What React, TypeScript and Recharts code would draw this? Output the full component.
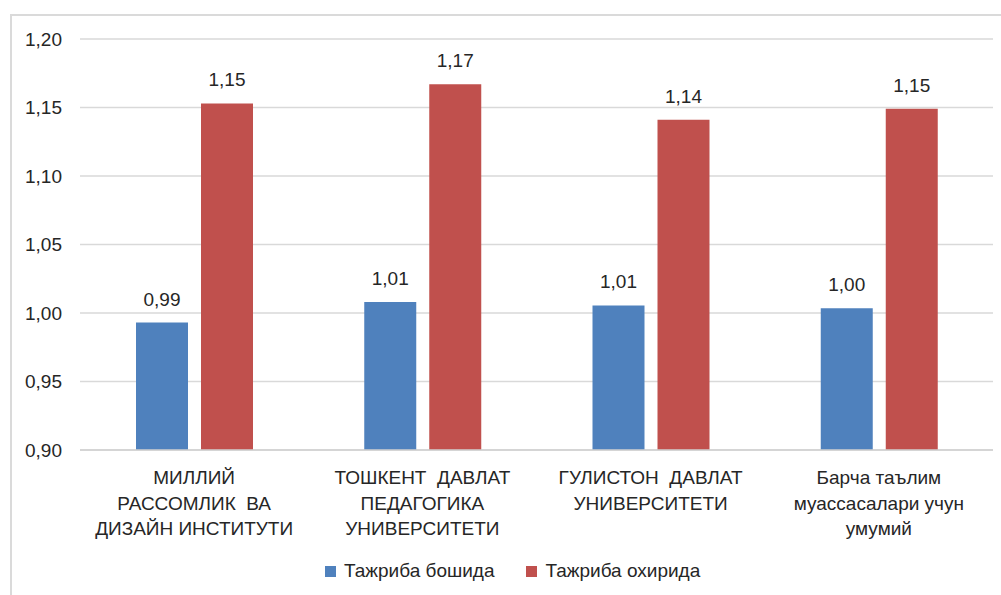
import React from "react";
import { BarChart, Bar, XAxis, YAxis, CartesianGrid, LabelList } from "recharts";

const categories = [
  "МИЛЛИЙ\nРАССОМЛИК  ВА\nДИЗАЙН ИНСТИТУТИ",
  "ТОШКЕНТ  ДАВЛАТ\nПЕДАГОГИКА\nУНИВЕРСИТЕТИ",
  "ГУЛИСТОН  ДАВЛАТ\nУНИВЕРСИТЕТИ",
  "Барча таълим\nмуассасалари учун\nумумий",
];
const startValues = [0.993, 1.008, 1.0055, 1.0035];
const endValues = [1.153, 1.167, 1.141, 1.149];
const seriesNames = ["Тажриба бошида", "Тажриба охирида"];
const seriesColors = ["#4F81BD", "#C0504D"];
const yTicks = [0.9, 0.95, 1.0, 1.05, 1.1, 1.15, 1.2];

const data = categories.map((c, i) => ({ name: c, start: startValues[i], end: endValues[i] }));

const FONT = "Liberation Sans";
const TEXT = "#262626";
const fmt = (v: number) => v.toFixed(2).replace(".", ",");

const CatTick = (props: any) => {
  const { x, y, payload } = props;
  const lines = String(payload.value).split("\n");
  return (
    <text x={x} y={y} textAnchor="middle" style={{ fontFamily: FONT }} fontSize={19} fill={TEXT}>
      {lines.map((l, i) => (
        <tspan key={i} x={x} dy={i === 0 ? 26 : 25.5} style={{ whiteSpace: "pre" }}>
          {l}
        </tspan>
      ))}
    </text>
  );
};

export default function App() {
  return (
    <div style={{ position: "absolute", left: 0, top: 0, width: 1001, height: 595, overflow: "hidden", background: "#fff" }}>
      <div
        style={{
          position: "absolute",
          left: 10,
          top: 14,
          width: 1010,
          height: 600,
          border: "2px solid #dadada",
          boxSizing: "border-box",
        }}
      />
      <div style={{ position: "absolute", left: 0, top: 0 }}>
        <BarChart
          width={1001}
          height={595}
          data={data}
          margin={{ top: 39, right: 8, bottom: 0, left: 0 }}
          barSize={52}
          barGap={13}
        >
          <CartesianGrid vertical={false} stroke="#d9d9d9" strokeWidth={1.3} />
          <XAxis
            dataKey="name"
            height={145}
            tickLine={false}
            axisLine={{ stroke: "#d0d0d0", strokeWidth: 1.3 }}
            tick={<CatTick />}
            interval={0}
          />
          <YAxis
            width={80}
            domain={[0.9, 1.2]}
            ticks={yTicks}
            tickLine={false}
            axisLine={false}
            tickSize={0}
            tickMargin={18}
            tickFormatter={fmt}
            tick={{ fontSize: 19, fill: TEXT, style: { fontFamily: FONT } }}
          />
          <Bar dataKey="start" fill={seriesColors[0]} isAnimationActive={false}>
            <LabelList dataKey="start" position="top" offset={17} formatter={(v: any) => fmt(Number(v))} style={{ fontFamily: FONT, fontSize: 19, fill: TEXT }} />
          </Bar>
          <Bar dataKey="end" fill={seriesColors[1]} isAnimationActive={false}>
            <LabelList dataKey="end" position="top" offset={17} formatter={(v: any) => fmt(Number(v))} style={{ fontFamily: FONT, fontSize: 19, fill: TEXT }} />
          </Bar>
        </BarChart>
      </div>
      <div
        style={{
          position: "absolute",
          top: 560,
          left: 325,
          display: "flex",
          alignItems: "center",
          fontFamily: FONT,
          fontSize: 19,
          color: TEXT,
          whiteSpace: "nowrap",
        }}
      >
        {seriesNames.map((n, i) => (
          <div key={n} style={{ display: "flex", alignItems: "center", marginRight: i === 0 ? 32 : 0 }}>
            <span style={{ display: "inline-block", width: 11, height: 11, background: seriesColors[i], marginRight: 8 }} />
            <span>{n}</span>
          </div>
        ))}
      </div>
    </div>
  );
}
